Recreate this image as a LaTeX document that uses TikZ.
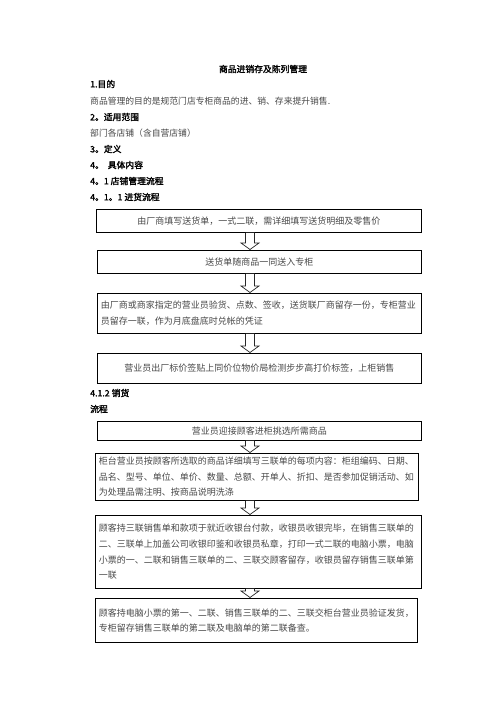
\documentclass[tikz,border=0pt]{standalone}
\usepackage{fontspec}
\setmainfont{Noto Sans CJK SC}
\newfontfamily\cjk{Noto Sans CJK SC}
\newfontfamily\cjkbold[FakeBold=2]{Noto Sans CJK SC}
\usetikzlibrary{calc}
\newcommand\bodyfont{\cjk\fontsize{8.8}{15.6}\selectfont}
\newcommand\boxfont{\cjk\fontsize{9}{15.6}\selectfont}
\newcommand\headfont{\cjkbold\fontsize{8.8}{15.6}\selectfont}
\newcommand\tline[1]{\mbox{#1}}
\begin{document}
\begin{tikzpicture}[x=1pt,y=1pt,
  heading/.style={anchor=west, inner sep=0pt, font=\headfont, text=black},
  bodytext/.style={anchor=west, inner sep=0pt, font=\bodyfont, text=black!72},
  box/.style={draw=black, line width=0.8pt, anchor=north west, inner xsep=3.5pt, inner ysep=0pt,
    font=\boxfont, text=black!72},
  harrow/.style={draw=black!85, line width=0.7pt, fill=white}
]
\useasboundingbox (0,0) rectangle (496,-702);

\node[heading, anchor=center] (title) at (263,-69) {商品进销存及陈列管理};
\node[heading] (h1) at (90,-84) {1.目的};
\node[bodytext] (t1) at (90,-101) {商品管理的目的是规范门店专柜商品的进、销、存来提升销售.};
\node[heading] (h2) at (90,-117) {2。适用范围};
\node[bodytext] (t2) at (90,-133) {部门各店铺（含自营店铺）};
\node[heading] (h3) at (90,-149) {3。定义};
\node[heading] (h4) at (90,-165) {4。\ \ 具体内容};
\node[heading] (h41) at (90,-181) {4。1 店铺管理流程};
\node[heading] (h411) at (90,-197) {4。1。1 进货流程};

\node[box, align=center, text width=318pt, minimum height=23pt] (b1) at (96,-209)
  {由厂商填写送货单，一式二联，需详细填写送货明细及零售价};
\node[box, align=center, text width=317pt, minimum height=23pt] (b2) at (97,-250)
  {送货单随商品一同送入专柜};
\node[box, align=left, text width=317pt, minimum height=40pt] (b3) at (97,-293)
  {\tline{由厂商或商家指定的营业员验货、点数、签收，送货联厂商留存一份，专柜营业}\\\tline{员留存一联，作为月底盘底时兑帐的凭证}};
\node[box, align=center, text width=317pt, minimum height=30pt] (b4) at (97,-353)
  {营业员出厂标价签贴上同价位物价局检测步步高打价标签，上柜销售};

\node[heading] (h412) at (90,-393) {4.1.2 销货};
\node[heading] (h5) at (90,-409) {流程};

\node[box, align=center, text width=317pt, minimum height=19pt] (b5) at (97,-421)
  {营业员迎接顾客进柜挑选所需商品};
\node[box, align=left, text width=316pt, minimum height=47pt] (b6) at (95,-453)
  {\tline{柜台营业员按顾客所选取的商品详细填写三联单的每项内容：柜组编码、日期、}\\\tline{品名、型号、单位、单价、数量、总额、开单人、折扣、是否参加促销活动、如}\\\tline{为处理品需注明、按商品说明洗涤}};
\node[box, align=left, text width=319pt, minimum height=73pt] (b7) at (95,-515)
  {\tline{顾客持三联销售单和款项于就近收银台付款，收银员收银完毕，在销售三联单的}\\\tline{二、三联单上加盖公司收银印鉴和收银员私章，打印一式二联的电脑小票，电脑}\\\tline{小票的一、二联和销售三联单的二、三联交顾客留存，收银员留存销售三联单第}\\\tline{一联}};
\node[box, align=left, text width=315pt, minimum height=44pt] (b8) at (95,-598)
  {\tline{顾客持电脑小票的第一、二联、销售三联单的二、三联交柜台营业员验证发货，}\\\tline{专柜留存销售三联单的第二联及电脑单的第二联备查。}};

\foreach \a/\b in {b1/b2, b2/b3, b3/b4, b5/b6, b6/b7, b7/b8}{
  \path[harrow] let \p1=(\a.south), \p2=(\b.north) in
    (245.5pt,\y1) -- (245.5pt,{\y2+7pt}) -- (241pt,{\y2+7pt}) -- (250pt,{\y2+0.5pt})
    -- (259pt,{\y2+7pt}) -- (254.5pt,{\y2+7pt}) -- (254.5pt,\y1);
}
\end{tikzpicture}
\end{document}
